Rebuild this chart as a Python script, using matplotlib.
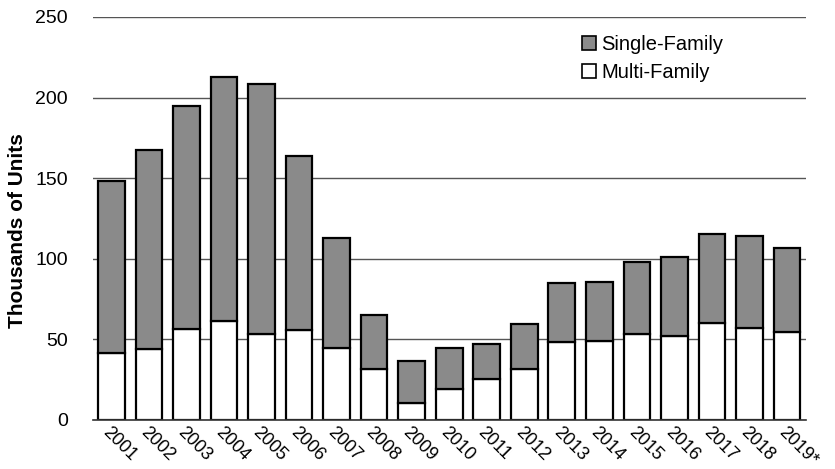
import matplotlib
matplotlib.use("Agg")
import matplotlib.pyplot as plt
from matplotlib.patches import Patch

years = ["2001", "2002", "2003", "2004", "2005", "2006", "2007", "2008", "2009", "2010",
         "2011", "2012", "2013", "2014", "2015", "2016", "2017", "2018", "2019*"]
totals = [148.3, 167.5, 195.0, 212.6, 208.6, 163.8, 112.9, 65.0, 36.6, 44.7,
          47.1, 59.4, 85.2, 85.6, 98.0, 100.9, 115.4, 114.1, 106.5]
multi_family = [41.8, 43.9, 56.5, 61.4, 53.5, 56.0, 44.5, 31.8, 10.7, 19.4,
                25.6, 31.6, 48.6, 49.0, 53.2, 51.9, 60.0, 56.9, 54.8]
single_family = [t - m for t, m in zip(totals, multi_family)]
yticks = [0, 50, 100, 150, 200, 250]

plt.rcParams['font.family'] = ['Liberation Sans', 'DejaVu Sans']

fig = plt.figure(figsize=(8.35, 4.69), dpi=100)
ax = fig.add_axes([0.111, 0.1045, 0.854, 0.8595])

x = list(range(len(years)))
gray = '#8a8a8a'
ax.bar(x, multi_family, width=0.71, color='white', edgecolor='black', linewidth=1.6, zorder=3)
ax.bar(x, single_family, bottom=multi_family, width=0.71, color=gray, edgecolor='black',
       linewidth=1.6, zorder=3)

ax.set_ylim(0, 250)
ax.set_xlim(-0.5, len(years) - 0.5)
ax.set_yticks(yticks)
ax.set_yticklabels([str(v) for v in yticks], fontsize=14)
ax.yaxis.grid(True, color='#555555', linewidth=1.0, zorder=0)
ax.set_axisbelow(True)
for s in ['top', 'right', 'left']:
    ax.spines[s].set_visible(False)
ax.spines['bottom'].set_color('#333333')
ax.spines['bottom'].set_linewidth(1.2)
ax.spines['bottom'].set_zorder(4)
ax.tick_params(axis='both', length=0)
ax.tick_params(axis='y', pad=18)

ax.set_xticks(x)
ax.set_xticklabels(years, rotation=-45, ha='left', va='top', fontsize=13,
                   rotation_mode='anchor')
ax.tick_params(axis='x', pad=3)

ax.set_ylabel('Thousands of Units', fontsize=15, fontweight='bold')
ax.yaxis.set_label_coords(-0.092, 0.47)

handles = [Patch(facecolor=gray, edgecolor='black', linewidth=1.2, label='Single-Family'),
           Patch(facecolor='white', edgecolor='black', linewidth=1.2, label='Multi-Family')]
ax.legend(handles=handles, loc='upper left', bbox_to_anchor=(0.675, 0.975), frameon=False,
          fontsize=14.5, handlelength=0.7, handleheight=0.7, handletextpad=0.25,
          labelspacing=0.45, borderaxespad=0)

fig.savefig('out.png', dpi=100)
